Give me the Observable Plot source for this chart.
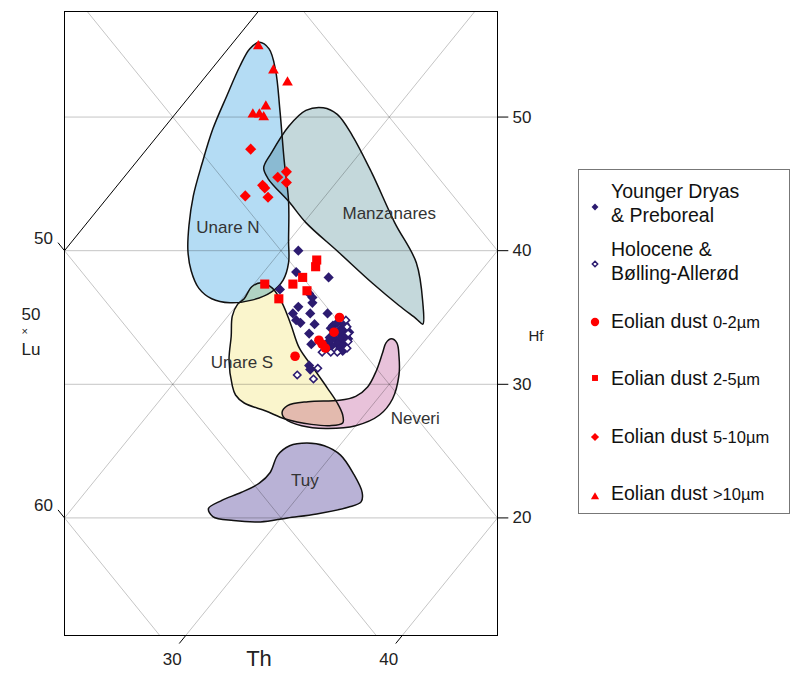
<!DOCTYPE html>
<html><head><meta charset="utf-8">
<script src="https://cdn.jsdelivr.net/npm/d3@7"></script>
<script src="https://cdn.jsdelivr.net/npm/@observablehq/plot@0.6"></script>
<style>
body{margin:0;background:#fff;font-family:"Liberation Sans",Arial,sans-serif;}
#wrap{position:relative;width:791px;height:673px;overflow:hidden;background:#fff;}
#chart{position:absolute;left:0;top:0;}
#legend{position:absolute;left:577px;top:169px;}
</style></head>
<body><div id="wrap"><div id="chart"></div><div id="legend"></div></div>
<script>
// ---- axis limits (ternary Th / Hf, Lu = 100 - Th - Hf; Lu shown as 50×Lu) ----
const uLimits = [30, 50];          // horizontal ternary coordinate Th + Hf/2
const hfLimits = [11.2, 57.9];
const hfGrid = [20, 30, 40, 50];
const thGrid = [20, 30, 40];
const thEdge = [10];
const luGrid = [30, 40, 50, 60];
const hfTicks = [50, 40, 30, 20];
const thTicks = [30, 40];
const luTicks = [50, 60];

// ---- source fields, vertices as [Th, Hf] ----
const unareN = [[11.2,55.6],[11.9,55.1],[13.0,53.5],[14.7,50.5],[16.8,46.7],[18.5,43.7],[20.0,40.7],[20.8,39.1],[21.2,37.8],[21.1,36.9],[20.5,36.3],[19.6,36.1],[18.6,36.4],[17.6,37.2],[16.6,38.5],[15.7,40.0],[14.8,41.9],[13.9,44.1],[13.1,46.5],[12.3,49.1],[11.7,51.6],[11.2,53.8],[11.0,55.1]];
const manzanares = [[16.6,50.7],[17.5,50.2],[19.0,48.6],[21.3,45.8],[24.2,42.1],[26.7,39.1],[28.5,36.1],[29.3,34.5],[28.8,34.9],[27.5,35.9],[25.4,37.6],[22.7,39.9],[20.1,42.1],[18.6,43.6],[16.7,45.4],[16.1,46.2],[15.9,47.3],[15.7,49.3],[15.9,50.5]];
const unareS = [[20.1,36.4],[20.0,37.3],[20.3,37.6],[21.0,37.2],[22.0,36.1],[23.2,34.5],[24.5,32.7],[25.9,31.2],[27.3,29.7],[28.3,28.6],[29.0,27.7],[29.3,27.1],[28.8,26.9],[27.9,27.0],[26.5,27.4],[25.3,28.0],[24.0,28.6],[23.3,29.2],[22.8,29.9],[21.7,31.8],[20.9,33.6],[20.2,35.1],[20.0,36.0]];
const neveri = [[26.1,27.9],[26.1,28.4],[26.9,28.7],[28.3,28.8],[28.9,29.1],[29.1,29.8],[28.9,31.0],[28.5,32.4],[28.3,33.1],[28.4,33.4],[28.8,33.1],[29.4,32.1],[30.1,30.7],[30.7,28.9],[30.7,27.7],[30.0,26.9],[28.7,26.7],[27.5,26.9],[26.5,27.4]];
const tuy = [[26.3,20.7],[26.6,21.3],[27.2,21.9],[27.7,22.6],[27.8,23.4],[27.5,24.7],[27.7,25.4],[28.4,25.6],[29.3,25.4],[30.4,24.7],[31.7,23.3],[32.8,21.9],[33.1,21.2],[32.7,20.8],[31.5,20.3],[30.3,20.0],[29.2,19.7],[27.9,19.8],[26.8,20.1]];
const regionNames = ["Unare N", "Manzanares", "Unare S", "Neveri", "Tuy"];
const regionLabelPos = [[16.7,41.7],[23.6,42.8],[22.4,31.6],[32.5,27.4],[29.7,22.8]];
const regionFills = ["#b4dcf4", "#c4d8db", "#faf5cc", "#e8c2da", "#b9b2d6"];

// ---- samples, [Th, Hf] ----
const youngerDryas = [[20.8,40.0],[21.5,38.4],[23.2,38.0],[21.4,37.1],[22.9,36.8],[23.2,36.5],[23.4,36.1],[22.9,35.8],[22.9,35.3],[23.7,35.3],[24.5,35.3],[23.3,34.8],[23.6,34.6],[24.3,34.5],[24.4,33.8],[24.9,33.0],[25.6,31.4],[25.8,31.1],[25.2,34.4],[25.3,34.6],[25.7,34.2],[25.7,34.5],[26.0,34.0],[25.8,33.8],[26.1,33.6],[26.2,33.6],[25.8,33.4],[26.1,33.3],[26.4,33.1],[26.4,33.4],[25.5,33.5],[26.1,33.0],[26.4,32.8],[26.6,32.7],[25.9,32.9],[26.4,32.6],[25.5,34.0],[26.2,33.9],[25.6,33.2],[25.2,34.2],[26.6,32.5]];
const holoceneBA = [[25.6,34.8],[25.9,34.3],[26.2,33.8],[26.5,33.2],[26.7,32.7],[26.4,32.4],[26.1,32.4],[25.7,32.4],[26.1,31.2],[25.4,30.7],[26.3,30.4]];
const dust0to2 = [[25.2,35.0],[25.5,33.9],[25.1,33.3],[25.4,33.0],[25.7,32.7],[24.6,32.1]];
const dust2to5 = [[22.0,39.3],[22.2,38.8],[22.0,38.0],[21.8,37.5],[22.7,37.0],[20.5,37.5],[21.7,36.4]];
const dust5to10 = [[14.8,47.6],[17.1,45.5],[17.3,45.9],[17.7,45.1],[16.7,44.9],[16.9,44.7],[16.3,44.1],[17.4,44.0]];
const dustOver10 = [[11.3,55.3],[12.9,53.5],[14.0,52.6],[13.9,50.8],[13.6,50.2],[13.9,50.2],[14.2,50.0]];

const legendLines = [["Younger Dryas","& Preboreal"],["Holocene &","Bølling-Allerød"],["Eolian dust ","0-2µm"],["Eolian dust ","2-5µm"],["Eolian dust ","5-10µm"],["Eolian dust ",">10µm"]];

const NAVY = "#2c1b70", RED = "#ff0000", FONT = "Liberation Sans, Arial, sans-serif";
const GRID = {stroke: "#000", strokeOpacity: 0.23, strokeWidth: 1};
const X = d => d[0] + d[1] / 2, Y = d => d[1];
const regions = [unareN, manzanares, unareS, neveri, tuy];

const regionFillMarks = regions.map((pts, i) =>
  Plot.line(pts, {x: X, y: Y, curve: "catmull-rom-closed", fill: regionFills[i], stroke: "none"}));
const regionOutlineMarks = regions.map(pts =>
  Plot.line(pts, {x: X, y: Y, curve: "catmull-rom-closed", fill: "none", stroke: "#111", strokeWidth: 1.5}));

const plot = Plot.plot({
  width: 560, height: 673,
  marginLeft: 64, marginRight: 63, marginTop: 11, marginBottom: 38,
  x: {domain: uLimits, axis: null},
  y: {domain: hfLimits, axis: null},
  style: {fontFamily: FONT, background: "#fff"},
  marks: [
    ...regionFillMarks,
    // grid drawn translucent over the fields so it shows through them
    Plot.ruleY(hfGrid, GRID),
    Plot.link(thGrid, {x1: t => t, y1: () => 0, x2: t => t + 30, y2: () => 60, ...GRID, clip: true}),
    Plot.link(luGrid, {x1: l => 100 - l, y1: () => 0, x2: l => 70 - l, y2: () => 60, ...GRID, clip: true}),
    Plot.link(thEdge, {x1: t => t, y1: () => 0, x2: t => t + 30, y2: () => 60, stroke: "#000", strokeWidth: 1, clip: true}),
    ...regionOutlineMarks,
    Plot.text(regionNames, {x: (d, i) => X(regionLabelPos[i]), y: (d, i) => Y(regionLabelPos[i]), text: d => d, fontSize: 17, fill: "#333"}),
    Plot.frame({stroke: "#000", strokeWidth: 1}),
    // ticks
    Plot.link(hfTicks, {x1: () => uLimits[1], y1: h => h, x2: () => uLimits[1] + 0.5, y2: h => h, stroke: "#000"}),
    Plot.link(thTicks, {x1: t => t + hfLimits[0] / 2, y1: () => hfLimits[0], x2: t => t + 10.6 / 2, y2: () => 10.6, stroke: "#000"}),
    Plot.link(luTicks, {x1: () => 30, y1: l => 2 * (70 - l), x2: l => 100 - l - (2 * (70 - l) + 0.6) / 2, y2: l => 2 * (70 - l) + 0.6, stroke: "#000"}),
    Plot.text(hfTicks, {x: () => uLimits[1], y: h => h, text: h => String(h), textAnchor: "start", dx: 15, fontSize: 17, fill: "#222"}),
    Plot.text(thTicks, {x: t => t + 10.6 / 2, y: () => 10.6, text: t => String(t), dx: -7, dy: 16, fontSize: 17, fill: "#222"}),
    Plot.text(luTicks, {x: l => 100 - l - (2 * (70 - l) + 0.6) / 2, y: l => 2 * (70 - l) + 0.6, text: l => String(l), textAnchor: "end", dx: -5, dy: -4, fontSize: 17, fill: "#222"}),
    // axis titles
    Plot.text(["Th"], {frameAnchor: "bottom", dx: -22, dy: 30, fontSize: 22, fill: "#222"}),
    Plot.text(["Hf"], {frameAnchor: "right", dx: 46, dy: 13, fontSize: 15, fill: "#222"}),
    Plot.text(["50"], {frameAnchor: "left", dx: -43, dy: -9, fontSize: 17, fill: "#222"}),
    Plot.text(["×"], {frameAnchor: "left", dx: -43, dy: 8, fontSize: 11, fill: "#222"}),
    Plot.text(["Lu"], {frameAnchor: "left", dx: -43, dy: 26, fontSize: 17, fill: "#222"}),
    // samples
    Plot.dot(youngerDryas, {x: X, y: Y, symbol: "diamond2", fill: NAVY, stroke: "none", r: 4.6}),
    Plot.dot(holoceneBA, {x: X, y: Y, symbol: "diamond2", fill: "#fff", stroke: NAVY, strokeWidth: 1.6, r: 3.3}),
    Plot.dot(dust2to5, {x: X, y: Y, symbol: "square2", fill: RED, stroke: "none", r: 5.8}),
    Plot.dot(dust0to2, {x: X, y: Y, symbol: "circle", fill: RED, stroke: "none", r: 4.8}),
    Plot.dot(dust5to10, {x: X, y: Y, symbol: "diamond2", fill: RED, stroke: "none", r: 5.0}),
    Plot.dot(dustOver10, {x: X, y: Y, symbol: "triangle2", fill: RED, stroke: "none", r: 5.1})
  ]
});

// overlaps of the fields look like multiplied colours: draw each pair's intersection via a clip path
(function () {
  const NS = "http://www.w3.org/2000/svg";
  const groups = Array.from(plot.querySelectorAll('g[aria-label="line"]'));
  const fillPaths = regionFills.map(c => {
    const g = groups.find(g => (g.getAttribute("fill") || "").toLowerCase() === c);
    return g ? g.querySelector("path") : null;
  });
  if (fillPaths.some(p => !p)) return;
  const defs = document.createElementNS(NS, "defs");
  plot.insertBefore(defs, plot.firstChild);
  const lastG = fillPaths[fillPaths.length - 1].parentNode;
  const og = document.createElementNS(NS, "g");
  const tr = lastG.getAttribute("transform");
  if (tr) og.setAttribute("transform", tr);
  lastG.parentNode.insertBefore(og, lastG.nextSibling);
  const mul = (a, b) => { const A = d3.rgb(a), B = d3.rgb(b); return d3.rgb(A.r * B.r / 255, A.g * B.g / 255, A.b * B.b / 255).formatHex(); };
  for (let i = 0; i < fillPaths.length; i++) {
    const cp = document.createElementNS(NS, "clipPath");
    cp.setAttribute("id", "regclip-" + i);
    const p = document.createElementNS(NS, "path");
    p.setAttribute("d", fillPaths[i].getAttribute("d"));
    cp.appendChild(p);
    defs.appendChild(cp);
    for (let j = i + 1; j < fillPaths.length; j++) {
      const q = document.createElementNS(NS, "path");
      q.setAttribute("d", fillPaths[j].getAttribute("d"));
      q.setAttribute("fill", mul(regionFills[i], regionFills[j]));
      q.setAttribute("clip-path", `url(#regclip-${i})`);
      og.appendChild(q);
    }
  }
})();
document.getElementById("chart").appendChild(plot);

// ---- legend ----
const lg = d3.select("#legend").append("svg").attr("width", 214).attr("height", 346).style("font-family", FONT);
lg.append("rect").attr("x", 1.5).attr("y", 0.5).attr("width", 211).attr("height", 344).attr("fill", "#fff").attr("stroke", "#777");
const legendSymbols = [
  {type: d3.symbolDiamond2, size: 30, fill: NAVY, stroke: "none"},
  {type: d3.symbolDiamond2, size: 18, fill: "#fff", stroke: NAVY},
  {type: d3.symbolCircle, size: 55, fill: RED, stroke: "none"},
  {type: d3.symbolSquare2, size: 45, fill: RED, stroke: "none"},
  {type: d3.symbolDiamond2, size: 42, fill: RED, stroke: "none"},
  {type: d3.symbolTriangle2, size: 48, fill: RED, stroke: "none"}
];
const symY = [38, 95, 153, 209, 268, 328];
const baseY = [[29, 53], [87, 111], [159], [216], [274], [331]];
legendLines.forEach((lines, i) => {
  const s = legendSymbols[i];
  lg.append("path").attr("d", d3.symbol(s.type, s.size)()).attr("transform", `translate(18,${symY[i]})`)
    .attr("fill", s.fill).attr("stroke", s.stroke).attr("stroke-width", 1.5);
  if (i < 2) {
    lines.forEach((t, j) => lg.append("text").attr("x", 34).attr("y", baseY[i][j]).attr("font-size", 19.5).attr("fill", "#111").text(t));
  } else {
    const tx = lg.append("text").attr("x", 34).attr("y", baseY[i][0]).attr("fill", "#111");
    tx.append("tspan").attr("font-size", 19.5).text(lines[0]);
    tx.append("tspan").attr("font-size", 16.5).text(lines[1]);
  }
});
</script>
</body></html>
